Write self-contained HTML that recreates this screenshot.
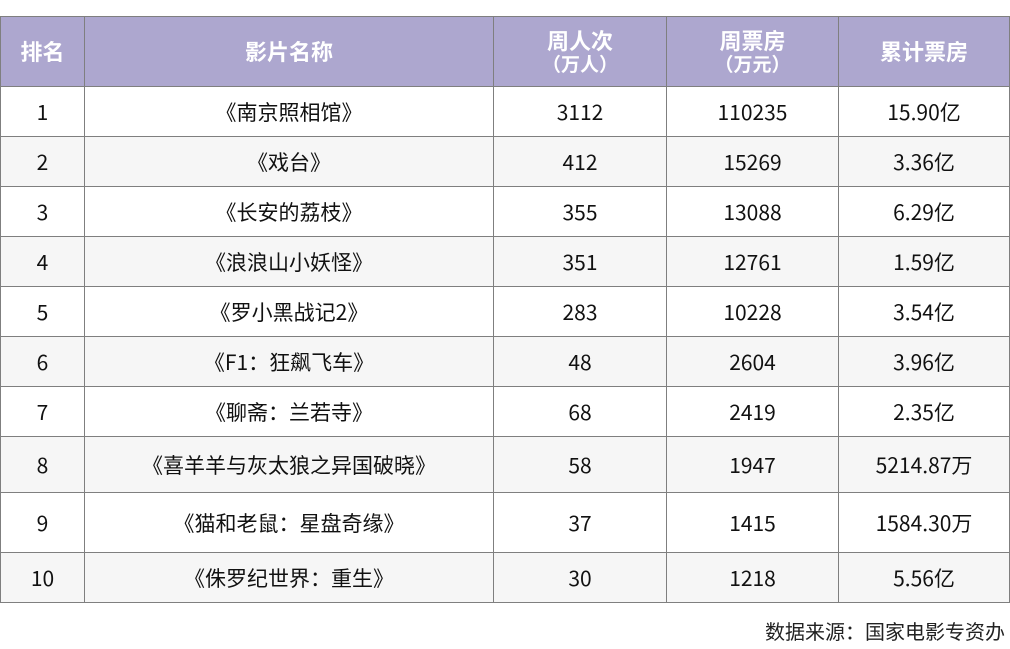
<!DOCTYPE html>
<html><head><meta charset="utf-8"><style>
body{margin:0;width:1010px;height:649px;background:#fff;font-family:"WenQuanYi Zen Hei","Noto Sans CJK SC",sans-serif;overflow:hidden;position:relative}
table{position:absolute;left:0;top:16px;border-collapse:collapse;table-layout:fixed}
td,th{border:1.5px solid #7f7f7f;text-align:center;padding:0;font-size:21px;color:#111;line-height:24px}
th{background:#ada7cf;color:#fff;font-weight:bold;font-size:22px;line-height:25px}
th small{font-size:19px;display:block;line-height:22px}
tr.s td{background:#f6f6f6}
.src{position:absolute;right:5px;top:616px;font-size:20px;color:#222}
</style></head><body>
<table>
<colgroup><col style="width:84px"><col style="width:409px"><col style="width:173px"><col style="width:172px"><col style="width:171px"></colgroup>
<tr style="height:70px"><th>排名</th><th>影片名称</th><th>周人次<small>（万人）</small></th><th>周票房<small>（万元）</small></th><th>累计票房</th></tr>
<tr style="height:50px"><td>1</td><td>《南京照相馆》</td><td>3112</td><td>110235</td><td>15.90亿</td></tr>
<tr class="s" style="height:50px"><td>2</td><td>《戏台》</td><td>412</td><td>15269</td><td>3.36亿</td></tr>
<tr style="height:50px"><td>3</td><td>《长安的荔枝》</td><td>355</td><td>13088</td><td>6.29亿</td></tr>
<tr class="s" style="height:50px"><td>4</td><td>《浪浪山小妖怪》</td><td>351</td><td>12761</td><td>1.59亿</td></tr>
<tr style="height:50px"><td>5</td><td>《罗小黑战记2》</td><td>283</td><td>10228</td><td>3.54亿</td></tr>
<tr class="s" style="height:50px"><td>6</td><td>《F1：狂飙飞车》</td><td>48</td><td>2604</td><td>3.96亿</td></tr>
<tr style="height:50px"><td>7</td><td>《聊斋：兰若寺》</td><td>68</td><td>2419</td><td>2.35亿</td></tr>
<tr class="s" style="height:56px"><td>8</td><td>《喜羊羊与灰太狼之异国破晓》</td><td>58</td><td>1947</td><td>5214.87万</td></tr>
<tr style="height:60px"><td>9</td><td>《猫和老鼠：星盘奇缘》</td><td>37</td><td>1415</td><td>1584.30万</td></tr>
<tr class="s" style="height:50px"><td>10</td><td>《侏罗纪世界：重生》</td><td>30</td><td>1218</td><td>5.56亿</td></tr>
</table>
<div class="src">数据来源：国家电影专资办</div>
</body></html>
